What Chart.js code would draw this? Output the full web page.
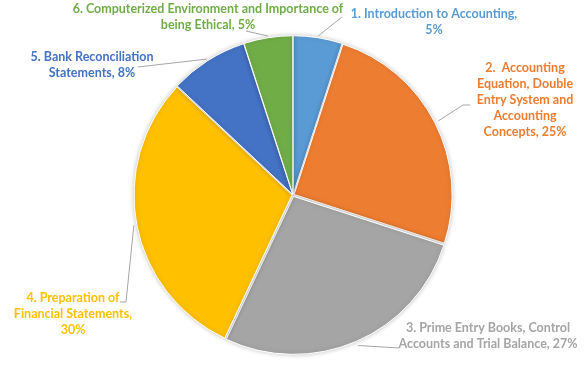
<!DOCTYPE html>
<html>
<head>
<meta charset="utf-8">
<script src="https://cdn.jsdelivr.net/npm/chart.js@4"></script>
<style>
  html, body { margin: 0; padding: 0; background: #fff; }
  #wrap { width: 588px; height: 392px; position: relative; }
</style>
</head>
<body>
<div id="wrap"><canvas id="pie"></canvas></div>
<script>
// ── Data ──────────────────────────────────
var categories = [
  "1. Introduction to Accounting",
  "2.  Accounting Equation, Double Entry System and Accounting Concepts",
  "3. Prime Entry Books, Control Accounts and Trial Balance",
  "4. Preparation of Financial Statements",
  "5. Bank Reconciliation Statements",
  "6. Computerized Environment and Importance of being Ethical"
];
var shares = [5, 25, 27, 30, 8, 5];
var sliceColors = ["#5B9BD5", "#ED7D31", "#A5A5A5", "#FFC000", "#4472C4", "#70AD47"];

// label placement: text centre x, first line middle y, wrap width, leader end points
var labelLayout = [
  { x: 434, y: 14, wrap: 178, leader: [[342, 17]] },
  { x: 525, y: 68, wrap: 104, leader: [[463, 105], [470, 105]] },
  { x: 488, y: 328, wrap: 188, leader: [[399, 348]] },
  { x: 73, y: 298, wrap: 132, leader: [[126, 302], [120, 302]] },
  { x: 92, y: 57, wrap: 130, leader: [[138, 67]] },
  { x: 208, y: 9, wrap: 295, leader: [[246, 31]] }
];
var sliceOffsets = [3, 5, 6, 4, 3, 3];
var labelFont = "bold 12.5px Lato, 'Open Sans', sans-serif";

function wrapText(ctx, text, maxW) {
  var words = text.split(" ");
  var lines = [];
  var cur = "";
  words.forEach(function (w) {
    var test = cur ? cur + " " + w : w;
    if (cur && ctx.measureText(test).width > maxW) {
      lines.push(cur);
      cur = w;
    } else {
      cur = test;
    }
  });
  if (cur) lines.push(cur);
  return lines;
}

var shadowPlugin = {
  id: "sliceShadow",
  beforeDatasetsDraw: function (chart) {
    var ctx = chart.ctx;
    ctx.save();
    ctx.shadowColor = "rgba(0,0,0,0.22)";
    ctx.shadowBlur = 5;
  },
  afterDatasetsDraw: function (chart) {
    chart.ctx.restore();
  }
};

var labelPlugin = {
  id: "pieLabels",
  afterDatasetsDraw: function (chart) {
    var ctx = chart.ctx;
    var arcs = chart.getDatasetMeta(0).data;
    ctx.save();
    ctx.font = labelFont;
    ctx.textAlign = "center";
    ctx.textBaseline = "middle";
    arcs.forEach(function (arc, i) {
      var p = arc.getProps(["x", "y", "startAngle", "endAngle", "outerRadius"], true);
      var mid = (p.startAngle + p.endAngle) / 2;
      var r = p.outerRadius + sliceOffsets[i];
      var lay = labelLayout[i];

      ctx.beginPath();
      ctx.moveTo(p.x + Math.cos(mid) * r, p.y + Math.sin(mid) * r);
      lay.leader.forEach(function (pt) { ctx.lineTo(pt[0], pt[1]); });
      ctx.strokeStyle = "#A6A6A6";
      ctx.lineWidth = 1;
      ctx.stroke();

      var text = categories[i] + ", " + shares[i] + "%";
      var lines = wrapText(ctx, text, lay.wrap);
      ctx.fillStyle = sliceColors[i];
      lines.forEach(function (ln, k) {
        ctx.fillText(ln, lay.x, lay.y + k * 16);
      });
    });
    ctx.restore();
  }
};

new Chart(document.getElementById("pie"), {
  type: "pie",
  data: {
    labels: categories,
    datasets: [{
      data: shares,
      backgroundColor: sliceColors,
      borderColor: "#ffffff",
      borderWidth: 1,
      offset: sliceOffsets
    }]
  },
  options: {
    responsive: true,
    maintainAspectRatio: false,
    animation: false,
    layout: { padding: { left: 131.5, right: 133.5, top: 33.5, bottom: 35.5 } },
    plugins: {
      legend: { display: false },
      tooltip: { enabled: false }
    }
  },
  plugins: [shadowPlugin, labelPlugin]
});
</script>
</body>
</html>
